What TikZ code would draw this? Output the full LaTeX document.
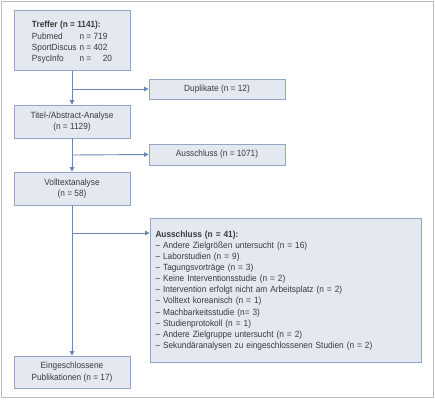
\documentclass[tikz,border=0pt]{standalone}
\usepackage{fontspec}
\setmainfont{Liberation Sans}[FakeStretch=0.92]
\usetikzlibrary{arrows.meta,calc}
\definecolor{boxfill}{HTML}{E4E9F1}
\definecolor{boxdraw}{HTML}{93A6C6}
\definecolor{linecol}{HTML}{6A86B5}
\definecolor{framecol}{HTML}{BDBDBD}
\definecolor{txt}{HTML}{3A3A3A}
\begin{document}
\begin{tikzpicture}[x=1pt,y=-1pt,
  flowbox/.style={draw=boxdraw,fill=boxfill,line width=0.8pt,inner sep=0pt,
    minimum width=#1,text=txt,font=\fontsize{9}{11.6}\selectfont,align=center},
  flowbox/.default=116pt,
  conn/.style={draw=linecol,line width=0.9pt,-{Triangle[width=4.5pt,length=4.5pt]}}]
\useasboundingbox (0,0) rectangle (435,400);
\draw[framecol,line width=1pt] (1.5,1.5) rectangle (433.5,397.5);

\node[flowbox,minimum height=60pt] (treffer) at (72,40.5) {%
  \raisebox{-2pt}[\height][\depth]{%
  \begin{tabular}{@{}l@{\hspace{3pt}}l@{}}
  \multicolumn{2}{@{}l@{}}{\textbf{Treffer (n = 1141):}}\\[-0.2pt]
  Pubmed & n = 719\\[-0.2pt]
  SportDiscus & n = 402\\[-0.2pt]
  PsycInfo & n = \phantom{0}\hphantom{0}20
  \end{tabular}}};
\node[flowbox=136pt,minimum height=20pt] (dup) at (217,89) {Duplikate (n = 12)};
\node[flowbox,minimum height=33pt] (titel) at (72,121.5) {Titel-/Abstract-Analyse\\(n = 1129)};
\node[flowbox=136pt,minimum height=21pt] (aus1) at (217,154.5) {Ausschluss (n = 1071)};
\node[flowbox,minimum height=33pt] (voll) at (72,188.5) {Volltextanalyse\\(n = 58)};
\node[flowbox=271pt,minimum height=144pt,align=left,text width=260pt,
  font=\fontsize{9}{11.1}\selectfont] (aus2) at (285.5,290.5) {%
  \textbf{Ausschluss (n = 41):}\\
  – Andere Zielgrößen untersucht (n = 16)\\
  – Laborstudien (n = 9)\\
  – Tagungsvorträge (n = 3)\\
  – Keine Interventionsstudie (n = 2)\\
  – Intervention erfolgt nicht am Arbeitsplatz (n = 2)\\
  – Volltext koreanisch (n = 1)\\
  – Machbarkeitsstudie (n= 3)\\
  – Studienprotokoll (n = 1)\\
  – Andere Zielgruppe untersucht (n = 2)\\
  – Sekundäranalysen zu eingeschlossenen Studien (n = 2)};
\node[flowbox,minimum height=32pt] (ein) at (72,372) {Eingeschlossene\\Publikationen (n = 17)};

\coordinate (b1) at (72,89);
\coordinate (b2) at (72,155);
\coordinate (b3) at (72,233);
\draw[conn] (treffer.south) -- (titel.north);
\draw[conn] (b1) -- (dup.west);
\draw[conn] (titel.south) -- (voll.north);
\draw[conn] (b2) -- (aus1.west);
\draw[conn] (voll.south) -- (ein.north);
\draw[conn] (b3) -- (b3 -| aus2.west);
\end{tikzpicture}
\end{document}
